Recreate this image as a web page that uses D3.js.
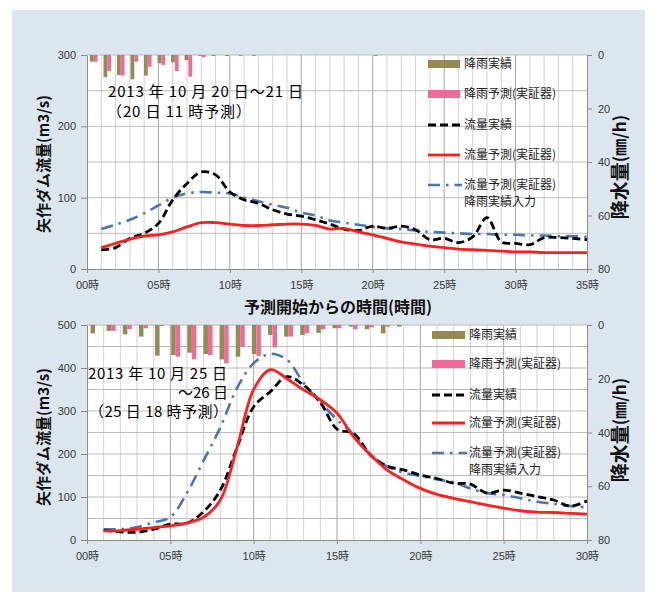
<!DOCTYPE html>
<html><head><meta charset="utf-8">
<script src="https://cdn.jsdelivr.net/npm/d3@7"></script>
<style>body{margin:0;background:#fff}</style>
</head><body>
<svg id="c" width="656" height="599"></svg>
<script>
// ---------- data ----------
const hoursTop = [1,2,3,4,5,6,7,8,9,10,11,12,13,14,15,16,17,18,19,20,21,22,23,24,25,26,27,28,29,30,31,32,33,34,35];
const flowActualTop = [27,30,43,50,64,97,120,136,132,108,97,92,83,77,74,69,63,56,54,60,57,60,55,41,43,37,45,72,38,36,34,44,44,43,41];
const flowForecastTop = [30,36,42,46,48,52,59,65,65,63,61,61,62,63,63,61,56,57,52,48,43,38,35,32,30,28,27,26,25,24,24,23,23,23,23];
const flowRainInputTop = [56,62,69,78,89,100,106,108,107,106,100,95,90,86,79,75,68,65,62,59,57,56,54,52,51,50,49,49,48,48,47,47,46,46,45];
const rainActualTop = [2.5,8.3,7.5,9.1,7.7,3.1,2.7,1.9,0.3,0.4,0.4,0.3,0.3,0,0,0,0,0,0,0,0,0.3,0,0,0,0,0,0,0,0,0,0,0,0,0,0,0];
const rainForecastTop = [2.5,6.0,7.7,2.5,4.4,3.7,6.0,8.1,0.9,0,0,0,0,0,0,0,0,0,0,0,0,0,0,0,0,0,0,0,0,0,0,0,0,0,0,0,0];

const hoursBottom = [1,2,3,4,5,6,7,8,9,10,11,12,13,14,15,16,17,18,19,20,21,22,23,24,25,26,27,28,29,30];
const flowActualBottom = [23,19,18,25,37,39,66,116,215,310,345,380,360,320,258,248,198,172,163,151,143,132,130,109,116,109,101,93,79,91];
const flowForecastBottom = [21,22,25,29,33,40,53,93,215,350,396,375,349,326,295,240,198,163,140,120,106,97,89,81,74,68,65,64,62,60];
const flowRainInputBottom = [25,25,30,41,53,110,185,262,353,411,433,419,365,320,280,245,198,171,157,149,141,134,120,109,105,97,89,84,79,76];
const rainActualBottom = [3.1,2.2,3.5,4.3,11.4,11.2,10.3,10.8,12.8,11.8,10.8,3.7,4.3,3.7,2.9,1.2,0.6,1.6,3.1,0.6,0,0,0,0,0,0,0,0,0,0,0];
const rainForecastBottom = [0,2.2,1.5,1.2,0.4,11.8,12.8,11.2,14.3,8.1,11.5,8.3,4.3,3.1,1.6,1.2,1.6,0.9,0.6,0,0,0,0,0,0,0,0,0,0,0,0];

const flowTicksTop = [0,100,200,300];
const flowTicksBottom = [0,100,200,300,400,500];
const rainTicks = [0,20,40,60,80];
const hourTicksTop = [0,5,10,15,20,25,30,35];
const hourTicksBottom = [0,5,10,15,20,25,30];
const legendLabels = ["降雨実績","降雨予測(実証器)","流量実績","流量予測(実証器)","流量予測(実証器)"];
const legendExtra = "降雨実績入力";
const noteTop = ["2013 年 10 月 20 日～21 日","（20 日 11 時予測）"];
const noteBottom = ["2013 年 10 月 25 日","～26 日","（25 日 18 時予測）"];
const yTitle = "矢作ダム流量(m3/s)";
const rTitleA = "降水量", rTitleB = "(㎜/h)";
const xTitle = "予測開始からの時間(時間)";

// ---------- style ----------
const JP = "'Noto Sans CJK JP','Noto Sans',sans-serif";
const NUM = "'Liberation Sans','Noto Sans CJK JP',sans-serif";
const C = {olive:"#948a54", pink:"#f0699b", black:"#000", red:"#ff1f1f", blue:"#4a76b0"};

const svg = d3.select("#c");
svg.append("rect").attr("x",12).attr("y",10).attr("width",633).attr("height",582).attr("fill","#dce6ee");

function panel(o){
  const g = svg.append("g");
  const x = d3.scaleLinear().domain([0,o.xMax]).range([87,587]);
  const y = d3.scaleLinear().domain([0,o.yMax]).range([o.yBot,o.yTop]);
  const r = d3.scaleLinear().domain([0,80]).range([o.yTop,o.yBot]);
  const band = d3.scaleBand().domain(d3.range(o.rainA.length)).range([87,587]);
  g.append("rect").attr("x",87).attr("y",o.yTop).attr("width",500).attr("height",o.yBot-o.yTop).attr("fill","#fff");
  // grid
  g.append("g").selectAll("line").data(d3.range(1,o.xMax)).join("line")
    .attr("x1",d=>x(d)).attr("x2",d=>x(d)).attr("y1",o.yTop).attr("y2",o.yBot)
    .attr("stroke",d=>d%5===0?"#a5a5a5":"#d3d3d3").attr("stroke-width",1);
  g.append("g").selectAll("line").data(d3.range(50,o.yMax+1,50)).join("line")
    .attr("x1",87).attr("x2",587).attr("y1",d=>y(d)).attr("y2",d=>y(d))
    .attr("stroke","#bdbdbd").attr("stroke-width",1);
  // bars
  const bw = band.bandwidth()*0.28;
  g.append("g").selectAll("rect").data(o.rainA).join("rect")
    .attr("x",(d,i)=>band(i)+band.bandwidth()/2-bw).attr("width",bw)
    .attr("y",r(0)).attr("height",d=>r(d)-r(0)).attr("fill",C.olive);
  g.append("g").selectAll("rect").data(o.rainF).join("rect")
    .attr("x",(d,i)=>band(i)+band.bandwidth()/2).attr("width",bw)
    .attr("y",r(0)).attr("height",d=>r(d)-r(0)).attr("fill",C.pink);
  // axes
  const st = sel => { sel.select(".domain").attr("stroke","#8c8c8c");
    sel.selectAll(".tick line").attr("stroke","#8c8c8c");
    sel.selectAll("text").attr("font-family",NUM).attr("font-size",11).attr("fill","#383838"); };
  g.append("g").attr("transform","translate(87,0)")
    .call(d3.axisLeft(y).tickValues(o.flowTicks).tickSize(6).tickSizeOuter(0).tickPadding(5)).call(st);
  g.append("g").attr("transform",`translate(0,${o.yBot})`)
    .call(d3.axisBottom(x).tickValues(o.hourTicks).tickSize(4).tickSizeOuter(0).tickPadding(8)
      .tickFormat(h=>String(h).padStart(2,"0")+"時")).call(st);
  g.append("g").attr("transform","translate(587,0)")
    .call(d3.axisRight(r).tickValues(rainTicks).tickSize(5).tickSizeOuter(0).tickPadding(6)).call(st);
  // lines
  const line = d3.line().x((d,i)=>x(o.hours[i])).y(d=>y(d)).curve(d3.curveCatmullRom.alpha(0.5));
  g.append("path").attr("d",line(o.fRain)).attr("fill","none").attr("stroke",C.blue).attr("stroke-width",2.6).attr("stroke-dasharray","12,6,2.5,6");
  g.append("path").attr("d",line(o.fAct)).attr("fill","none").attr("stroke",C.black).attr("stroke-width",2.8).attr("stroke-dasharray","8,4");
  g.append("path").attr("d",line(o.fFc)).attr("fill","none").attr("stroke",C.red).attr("stroke-width",2.8);
  // legend
  const L = o.leg;
  const lg = g.append("g");
  lg.append("rect").attr("x",L.x).attr("y",L.ys[0]-4).attr("width",L.w).attr("height",8).attr("fill",C.olive);
  lg.append("rect").attr("x",L.x).attr("y",L.ys[1]-4).attr("width",L.w).attr("height",8).attr("fill",C.pink);
  lg.append("line").attr("x1",L.x).attr("x2",L.x+L.w).attr("y1",L.ys[2]).attr("y2",L.ys[2]).attr("stroke",C.black).attr("stroke-width",2.8).attr("stroke-dasharray","8,4");
  lg.append("line").attr("x1",L.x).attr("x2",L.x+L.w).attr("y1",L.ys[3]).attr("y2",L.ys[3]).attr("stroke",C.red).attr("stroke-width",2.8);
  lg.append("line").attr("x1",L.x).attr("x2",L.x+L.w+2).attr("y1",L.ys[4]).attr("y2",L.ys[4]).attr("stroke",C.blue).attr("stroke-width",2.6).attr("stroke-dasharray","12,6,2.5,6");
  lg.selectAll("text.l").data(legendLabels).join("text").attr("class","l")
    .attr("x",L.tx).attr("y",(d,i)=>L.ys[i]).attr("dy","0.36em").text(d=>d)
    .attr("font-family",JP).attr("font-size",12).attr("fill","#222");
  lg.append("text").attr("x",L.tx).attr("y",L.ys[4]+17).attr("dy","0.36em").text(legendExtra)
    .attr("font-family",JP).attr("font-size",12).attr("fill","#222");
  // notes
  o.notes.forEach(n=>{
    const t = g.append("text").attr("x",n.x).attr("y",n.y).attr("text-anchor",n.a||"start").text(n.t)
      .attr("font-family",JP).attr("font-size",15).attr("fill","#000");
    if(n.len) t.attr("textLength",n.len).attr("lengthAdjust","spacing");
  });
  // titles
  g.append("text").attr("transform",`translate(42,${o.yTitleY}) rotate(-90)`).attr("text-anchor","middle")
    .attr("dominant-baseline","central").attr("font-family",JP).attr("font-weight","bold").attr("font-size",15).attr("fill","#111").text(yTitle);
  const rt = g.append("text").attr("transform",`translate(618,${o.rTitleY}) rotate(-90)`).attr("text-anchor","middle")
    .attr("dominant-baseline","central").attr("font-family",JP).attr("font-weight","bold").attr("fill","#111");
  rt.append("tspan").attr("font-size",19).text(rTitleA);
  rt.append("tspan").attr("font-size",17).text(rTitleB);
  return g;
}

panel({xMax:35,yMax:300,yTop:55,yBot:269,hours:hoursTop,fAct:flowActualTop,fFc:flowForecastTop,fRain:flowRainInputTop,
  rainA:rainActualTop,rainF:rainForecastTop,flowTicks:flowTicksTop,hourTicks:hourTicksTop,
  leg:{x:428,w:32,tx:464,ys:[64,94,125,155,185]},
  notes:[{t:noteTop[0],x:108,y:97,len:195},{t:noteTop[1],x:107,y:117,len:144}],
  yTitleY:164,rTitleY:167});
panel({xMax:30,yMax:500,yTop:325,yBot:540,hours:hoursBottom,fAct:flowActualBottom,fFc:flowForecastBottom,fRain:flowRainInputBottom,
  rainA:rainActualBottom,rainF:rainForecastBottom,flowTicks:flowTicksBottom,hourTicks:hourTicksBottom,
  leg:{x:432,w:33,tx:469,ys:[335,364,395,423,453]},
  notes:[{t:noteBottom[0],x:88,y:379,len:139},{t:noteBottom[1],x:228,y:398,a:"end"},{t:noteBottom[2],x:89,y:417,len:139}],
  yTitleY:437,rTitleY:430});

svg.append("text").attr("x",338).attr("y",313).attr("text-anchor","middle").attr("font-family",JP)
  .attr("font-weight","bold").attr("font-size",16).attr("fill","#111").text(xTitle);
</script>
</body></html>
